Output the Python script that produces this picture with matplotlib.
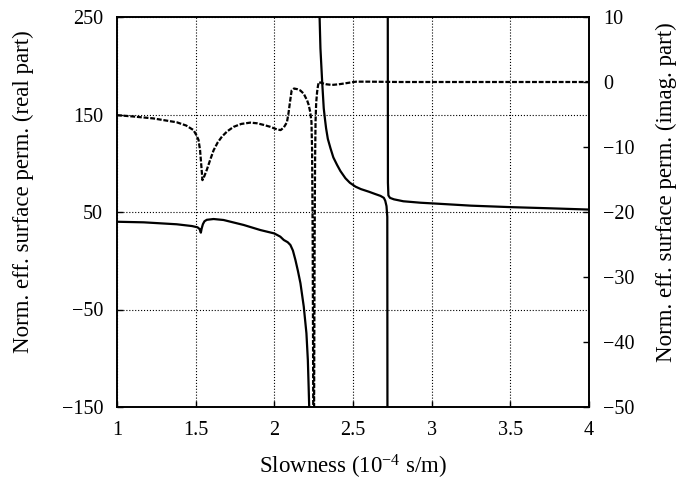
import matplotlib
matplotlib.use('Agg')
import matplotlib.pyplot as plt
import numpy as np

plt.rcParams['font.family'] = ['Liberation Serif', 'DejaVu Serif']
plt.rcParams['mathtext.fontset'] = 'custom'
plt.rcParams['mathtext.rm'] = 'Liberation Serif'
plt.rcParams['mathtext.default'] = 'regular'

nan = np.nan

# real part (solid line, left axis) - nan breaks at the two poles
real_x = [1.0, 1.17, 1.38, 1.476, 1.512, 1.525, 1.533, 1.538, 1.546, 1.556, 1.571, 1.614,
          1.677, 1.805, 1.911, 2.0, 2.038, 2.06, 2.085, 2.102, 2.118, 2.134, 2.15, 2.166,
          2.187, 2.204, 2.213, 2.218, 2.226,
          nan,
          2.286, 2.293, 2.304, 2.314, 2.322, 2.329, 2.34, 2.357, 2.375, 2.399, 2.42,
          2.452, 2.48, 2.516, 2.55, 2.601, 2.64, 2.675, 2.696, 2.705, 2.713, 2.718, 2.719,
          nan,
          2.721, 2.722, 2.725, 2.735, 2.76, 2.82, 2.93, 3.04, 3.25, 3.5, 3.75, 4.0]
real_y = [40.0, 39.4, 37.4, 35.6, 34.3, 32.5, 28.8, 33.0, 37.5, 40.5, 42.0, 42.8,
          41.8, 36.7, 31.5, 28.0, 24.7, 21.3, 19.0, 16.2, 10.5, 0.8, -10.5, -23.1,
          -47.0, -74.4, -101.8, -129.0, -175.0,
          nan,
          260.0, 217.9, 183.6, 156.4, 145.0, 135.8, 125.0, 115.3, 106.0, 98.2, 92.0,
          84.6, 80.0, 76.0, 73.5, 70.8, 68.5, 66.5, 64.5, 61.5, 56.0, 45.0, -175.0,
          nan,
          260.0, 80.0, 67.0, 64.5, 63.0, 61.0, 59.5, 58.5, 56.5, 55.0, 53.8, 52.5]

# imaginary part (dashed line, right axis)
imag_x = [1.0, 1.1, 1.23, 1.38, 1.44, 1.486, 1.505, 1.518, 1.528, 1.538, 1.543, 1.55,
          1.571, 1.592, 1.614, 1.64, 1.667, 1.70, 1.741, 1.79, 1.847, 1.89, 1.932, 1.975,
          2.017, 2.04, 2.06, 2.08, 2.09, 2.10, 2.11, 2.125, 2.145, 2.165, 2.187, 2.197,
          2.208, 2.218, 2.228, 2.236, 2.240, 2.244, 2.250, 2.256, 2.259, 2.262, 2.266,
          2.272, 2.278, 2.283, 2.30, 2.33, 2.367, 2.41, 2.452, 2.49, 2.52, 2.6, 2.8,
          3.0, 3.5, 4.0]
imag_y = [-5.1, -5.3, -5.6, -6.2, -6.7, -7.4, -8.2, -8.9, -10.5, -13.5, -15.1, -14.8,
          -13.5, -12.0, -10.5, -9.3, -8.4, -7.6, -6.9, -6.45, -6.25, -6.35, -6.6, -6.9,
          -7.3, -7.4, -7.0, -6.2, -4.8, -3.0, -1.3, -1.0, -1.1, -1.3, -1.8, -2.3,
          -2.8, -3.5, -4.6, -6.1, -10.5, -25.0, -70.0, -25.0, -12.0, -6.0, -3.2,
          -1.5, -0.5, 0.0, -0.15, -0.35, -0.45, -0.35, -0.2, -0.05, 0.05, 0.05, 0.0,
          0.0, 0.0, 0.0]

x_ticks = [1, 1.5, 2, 2.5, 3, 3.5, 4]
x_labels = ['1', '1.5', '2', '2.5', '3', '3.5', '4']
left_ticks = [-150, -50, 50, 150, 250]
right_ticks = [-50, -40, -30, -20, -10, 0, 10]

fs = 14.5
lfs = 16.5

fig = plt.figure(figsize=(6.97, 4.87), dpi=100)
ax = fig.add_axes([117 / 697, 80 / 487, 472 / 697, 390 / 487])
ax.plot(real_x, real_y, color='black', lw=1.6)
ax.set_xlim(1, 4)
ax.set_ylim(-150, 250)
ax.set_xticks(x_ticks)
ax.set_xticklabels(x_labels)
ax.set_yticks(left_ticks)
ax.grid(True, color='black', linestyle=':', linewidth=0.8)
ax.tick_params(direction='in', length=4, width=1, pad=10, labelsize=fs,
               top=False, right=False)
ax.set_xlabel('Slowness (10$^{-4}$ s/m)', fontsize=lfs)
ax.xaxis.set_label_coords(0.5, -0.118)
ax.set_ylabel('Norm. eff. surface perm. (real part)', fontsize=lfs)
ax.yaxis.set_label_coords(-0.176, 0.551)

ax2 = ax.twinx()
ax2.plot(imag_x, imag_y, color='black', lw=1.6, dashes=(2.2, 0.8))
ax2.set_ylim(-50, 10)
ax2.set_yticks(right_ticks)
ax2.tick_params(direction='in', length=4, width=1, pad=10, labelsize=fs)
ax2.set_ylabel('Norm. eff. surface perm. (imag. part)', fontsize=lfs)
ax2.yaxis.set_label_coords(1.142, 0.551)

for a in (ax, ax2):
    for s in a.spines.values():
        s.set_linewidth(1.2)

fig.savefig('out.png', dpi=100)
